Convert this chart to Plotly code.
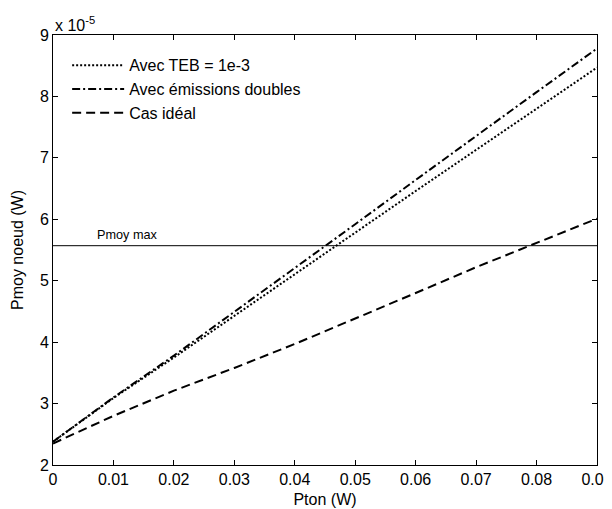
import plotly.graph_objects as go

# Data (y values in units of 1e-5 W)
pton = [0.0, 0.01, 0.02, 0.03, 0.04, 0.05, 0.06, 0.07, 0.08, 0.09]
teb_1e3 = [2.38, 3.09, 3.75, 4.43, 5.11, 5.78, 6.46, 7.13, 7.80, 8.47]
emissions_doubles = [2.38, 3.10, 3.78, 4.49, 5.20, 5.92, 6.64, 7.36, 8.07, 8.78]
cas_ideal = [2.35, 2.80, 3.21, 3.58, 3.97, 4.38, 4.80, 5.22, 5.62, 6.01]
pmoy_max = 5.57
x_range = [0.0, 0.09]
x_ticks = [0, 0.01, 0.02, 0.03, 0.04, 0.05, 0.06, 0.07, 0.08, 0.09]
x_ticklabels = ["0", "0.01", "0.02", "0.03", "0.04", "0.05", "0.06", "0.07", "0.08", "0.09"]
y_ticks = [2, 3, 4, 5, 6, 7, 8, 9]

FONT = "Liberation Sans, Arial, sans-serif"
FS = 16

fig = go.Figure()
fig.add_trace(go.Scatter(x=pton, y=teb_1e3, mode="lines", name="Avec TEB = 1e-3",
                         line=dict(color="black", width=2, dash="2px,2px")))
fig.add_trace(go.Scatter(x=pton, y=emissions_doubles, mode="lines", name="Avec émissions doubles",
                         line=dict(color="black", width=2, dash="8px,3px,2px,3px")))
fig.add_trace(go.Scatter(x=pton, y=cas_ideal, mode="lines", name="Cas idéal",
                         line=dict(color="black", width=2, dash="9px,5px")))
fig.add_trace(go.Scatter(x=x_range, y=[pmoy_max, pmoy_max], mode="lines", showlegend=False,
                         line=dict(color="black", width=1)))

fig.add_annotation(x=0.007, y=pmoy_max, xref="x", yref="y", text="Pmoy max",
                   showarrow=False, xanchor="left", yanchor="bottom", yshift=2,
                   font=dict(family=FONT, size=12.7, color="black"))
fig.add_annotation(x=0, y=1, xref="paper", yref="paper", text="x 10<sup>-5</sup>",
                   showarrow=False, xanchor="left", yanchor="bottom", yshift=-1,
                   font=dict(family=FONT, size=FS, color="black"))

axis_common = dict(showgrid=False, zeroline=False, showline=True, linecolor="black",
                   linewidth=1, mirror="ticks", ticks="inside", ticklen=5,
                   tickcolor="black", automargin=False,
                   tickfont=dict(family=FONT, size=FS, color="black"))

fig.update_xaxes(range=x_range, tickvals=x_ticks, ticktext=x_ticklabels,
                 ticklabeloverflow="allow",
                 title=dict(text="Pton (W)", font=dict(family=FONT, size=FS, color="black"), standoff=6),
                 **axis_common)
fig.update_yaxes(range=[2, 9], tickvals=y_ticks,
                 title=dict(text="Pmoy noeud (W)", font=dict(family=FONT, size=FS, color="black"), standoff=12),
                 **axis_common)

# The page places the figure 8px from the top-left of the window.
fig.update_layout(
    width=604, height=501,
    margin=dict(l=45, r=15, t=27, b=44),
    paper_bgcolor="white", plot_bgcolor="white",
    font=dict(family=FONT, size=FS, color="black"),
    legend=dict(x=0.026, y=0.969, xanchor="left", yanchor="top",
                bgcolor="rgba(0,0,0,0)", borderwidth=0,
                font=dict(family=FONT, size=FS, color="black"),
                tracegroupgap=0, itemwidth=52),
)

fig.write_html("out.html")
